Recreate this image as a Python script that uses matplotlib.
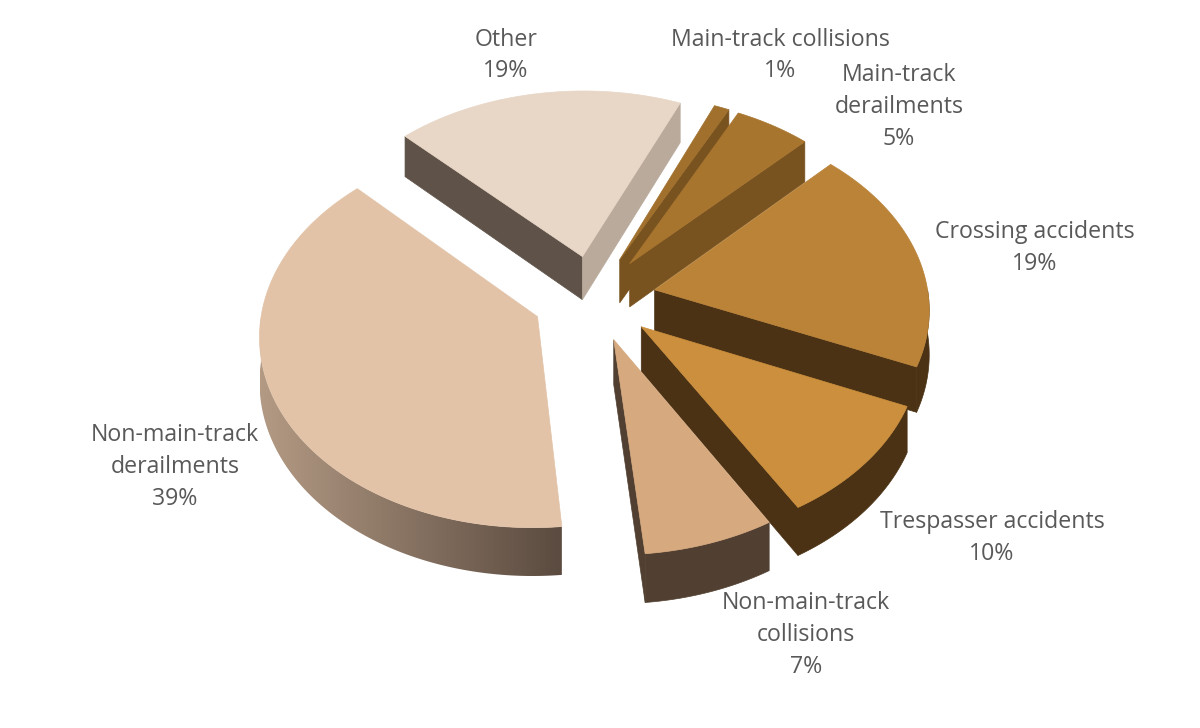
#! /usr/bin/env python

import numpy as np
import matplotlib
matplotlib.use('agg')
import matplotlib.pyplot as plt
from matplotlib.colors import to_rgb
from matplotlib.patches import Polygon

plt.rcParams['font.family'] = ['Open Sans', 'DejaVu Sans']

names = ["Main-track collisions", "Main-track\nderailments", "Crossing accidents",
         "Trespasser accidents", "Non-main-track\ncollisions", "Non-main-track\nderailments", "Other"]
shares = [1, 5, 19, 10, 7, 39, 19]

top_colors = ["#A0702C", "#A8752F", "#BA8338", "#CB8F3D", "#D6A97F", "#E2C3A8", "#E8D6C6"]
wall_colors = ["#78521F", "#78521F", "#4B3214", "#4B3214", "#514031", "#5A4A3F", "#B9AA9B"]
start_wall_colors = [None, None, None, None, None, None, "#5F5349"]

label_x = [780, 899, 1035, 992, 806, 175, 506]
label_y = [55.5, 107, 248, 538, 635, 467, 55.5]

# back to front
draw_order = [6, 0, 1, 2, 5, 4, 3]

CX, CY = 594, 298
R = 274
EXPLODE = 62
SQUASH = 0.695
PERSP = 0.00033
DEPTH = 44
FIRST_ANGLE = 23.2


def project(X, Y, h=0.0):
    f = 1 + PERSP * Y
    return CX + X * f, CY + SQUASH * Y * f + h * f


def plane(theta, r, ox, oy):
    t = np.radians(theta)
    return ox + r * np.sin(t), oy - r * np.cos(t)


def face(ax, x0, y0, x1, y1, color):
    xs0, ys0 = project(x0, y0)
    xs1, ys1 = project(x1, y1)
    xb0, yb0 = project(x0, y0, DEPTH)
    xb1, yb1 = project(x1, y1, DEPTH)
    ax.add_patch(Polygon([(xs0, ys0), (xs1, ys1), (xb1, yb1), (xb0, yb0)],
                         fc=color, ec=color, lw=0.5))


fig = plt.figure(figsize=(12, 7.28), dpi=100)
ax = fig.add_axes([0, 0, 1, 1])

edges = FIRST_ANGLE + 3.6 * np.concatenate(([0], np.cumsum(shares)))

for i in draw_order:
    a0, a1 = edges[i], edges[i + 1]
    ox, oy = plane((a0 + a1) / 2, EXPLODE, 0, 0)
    theta = np.linspace(a0, a1, 200)
    px, py = plane(theta, R, ox, oy)

    # radial faces, only the ones turned towards the viewer
    if np.sin(np.radians(a0)) < 0:
        x0, y0 = plane(a0, R, ox, oy)
        face(ax, ox, oy, x0, y0, start_wall_colors[i] or wall_colors[i])
    if np.sin(np.radians(a1)) > 0:
        x1, y1 = plane(a1, R, ox, oy)
        face(ax, ox, oy, x1, y1, wall_colors[i])

    # outer wall, front half of the rim only
    front = (theta >= 90) & (theta <= 270)
    if front.any():
        tx, ty = project(px[front], py[front])
        bx, by = project(px[front], py[front], DEPTH)
        rim = np.column_stack((np.r_[tx, bx[::-1]], np.r_[ty, by[::-1]]))
        if names[i].endswith("derailments") and shares[i] > 20:
            # the big slice has a shaded rim
            patch = Polygon(rim, fc="none", ec="none")
            ax.add_patch(patch)
            t = np.linspace(0, 1, 256)[None, :, None]
            light, dark = np.array(to_rgb("#B39A84")), np.array(to_rgb(wall_colors[i]))
            img = ax.imshow(light + (dark - light) * t,
                            extent=(bx.min(), bx.max() + 1, by.max() + 1, ty.min() - 1),
                            aspect="auto", zorder=patch.get_zorder())
            img.set_clip_path(patch)
        else:
            ax.add_patch(Polygon(rim, fc=wall_colors[i], ec=wall_colors[i], lw=0.5))

    sx, sy = project(np.r_[ox, px], np.r_[oy, py])
    ax.add_patch(Polygon(np.column_stack((sx, sy)), fc=top_colors[i], ec=top_colors[i], lw=0.5,
                         zorder=1.5 + draw_order.index(i) * 0.01))

for name, share, x, y in zip(names, shares, label_x, label_y):
    ax.text(x, y, "{}\n{}%".format(name, share), ha="center", va="center", fontsize=16.7,
            color="#595959", linespacing=1.42, zorder=5)

ax.set_xlim(0, 1200)
ax.set_ylim(728, 0)
ax.axis("off")

fig.savefig("out.png", dpi=100)
